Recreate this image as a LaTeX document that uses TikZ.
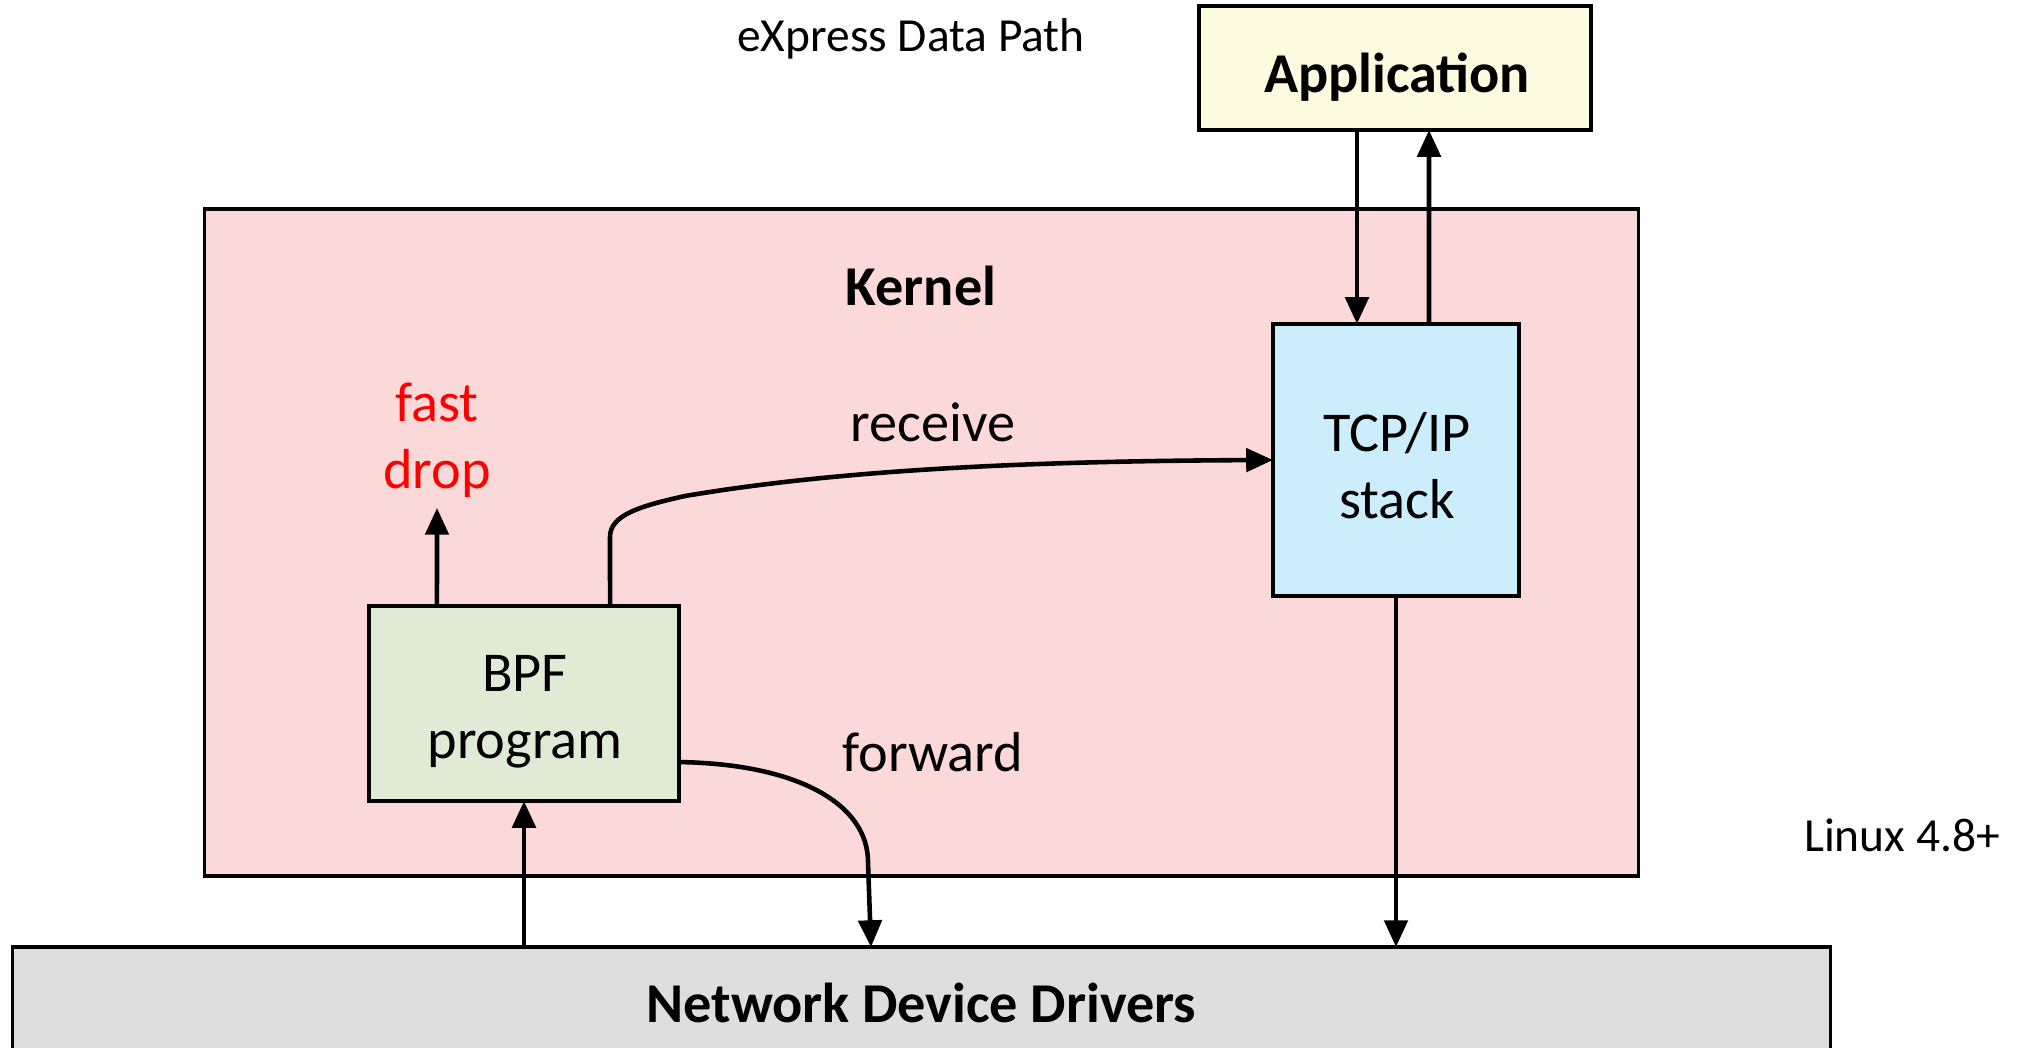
\documentclass[tikz,border=0pt]{standalone}
\usepackage{fontspec}
\setmainfont{Carlito}
\usetikzlibrary{arrows.meta}
\definecolor{appfill}{HTML}{FCFBE0}
\definecolor{kernfill}{HTML}{FCD9D9}
\definecolor{tcpfill}{HTML}{CCEEFC}
\definecolor{bpffill}{HTML}{E0EBD6}
\definecolor{nddfill}{HTML}{DEDEDE}
\newcommand\dgmfont{\fontsize{16}{19}\selectfont}
\newcommand\dgmsmall{\fontsize{13.5}{16}\selectfont}
\begin{document}
\begin{tikzpicture}[x=0.01cm,y=-0.01cm,
  box/.style={draw=black,line width=1pt,inner sep=0pt,outer sep=0pt},
  arr/.style={line width=1.3pt,-{Triangle[length=7.6pt,width=6.6pt]}},
  lbl/.style={inner sep=0pt,font=\dgmfont,align=center}]
\clip (0,0) rectangle (2032,1047);
\fill[white] (0,0) rectangle (2032,1047);
% boxes
\node[box,fill=kernfill,minimum width=14.33cm,minimum height=6.67cm] (kernel) at (921.5,542.5) {};
\node[box,fill=appfill,minimum width=3.92cm,minimum height=1.24cm] (app) at (1395,68) {};
\node[box,fill=tcpfill,minimum width=2.46cm,minimum height=2.72cm] (tcp) at (1396,460) {};
\node[box,fill=bpffill,minimum width=3.10cm,minimum height=1.95cm] (bpf) at (524,703.5) {};
\node[box,fill=nddfill,minimum width=18.17cm,minimum height=1.12cm] (ndd) at (921.5,1003) {};
% box texts
\node[lbl,font=\dgmfont\bfseries] (apptext) at (1397,77) {Application};
\node[lbl] (tcptext) at (1397,466) {TCP/IP\\stack};
\node[lbl] (bpftext) at (525,712) {BPF\\program};
\node[lbl,font=\dgmfont\bfseries] (nddtext) at (921.5,1003) {Network Device Drivers};
% labels
\node[lbl,font=\dgmsmall] (xdp) at (911,39) {eXpress Data Path};
\node[lbl,font=\dgmsmall] (linux) at (1902,835) {Linux 4.8+};
\node[lbl,font=\dgmfont\bfseries] (klabel) at (921,286) {Kernel};
\node[lbl,text=red] (drop) at (437,440) {fast\\drop};
\node[lbl] (recv) at (933,422) {receive};
\node[lbl] (fwd) at (933,752) {forward};
% connectors
\coordinate (droptip) at (437,508);
\draw[arr] ([xshift=-0.87cm]bpf.north) -- (droptip);
\draw[arr] ([xshift=-0.38cm]app.south) -- ([xshift=-0.39cm]tcp.north);
\draw[arr] ([xshift=0.33cm]tcp.north) -- ([xshift=0.34cm]app.south);
\draw[arr] (tcp.south) -- (tcp.south |- ndd.north);
\draw[arr] (bpf.south |- ndd.north) -- (bpf.south);
\draw[arr] ([xshift=0.86cm]bpf.north) -- (610,537)
  .. controls (610,515) and (640,506) .. (685,496)
  .. controls (850,468) and (1050,461) .. (tcp.west);
\draw[arr] ([yshift=-0.585cm]bpf.east) .. controls (800,764) and (868,805) .. (868,862) -- (871,947);
\end{tikzpicture}
\end{document}
